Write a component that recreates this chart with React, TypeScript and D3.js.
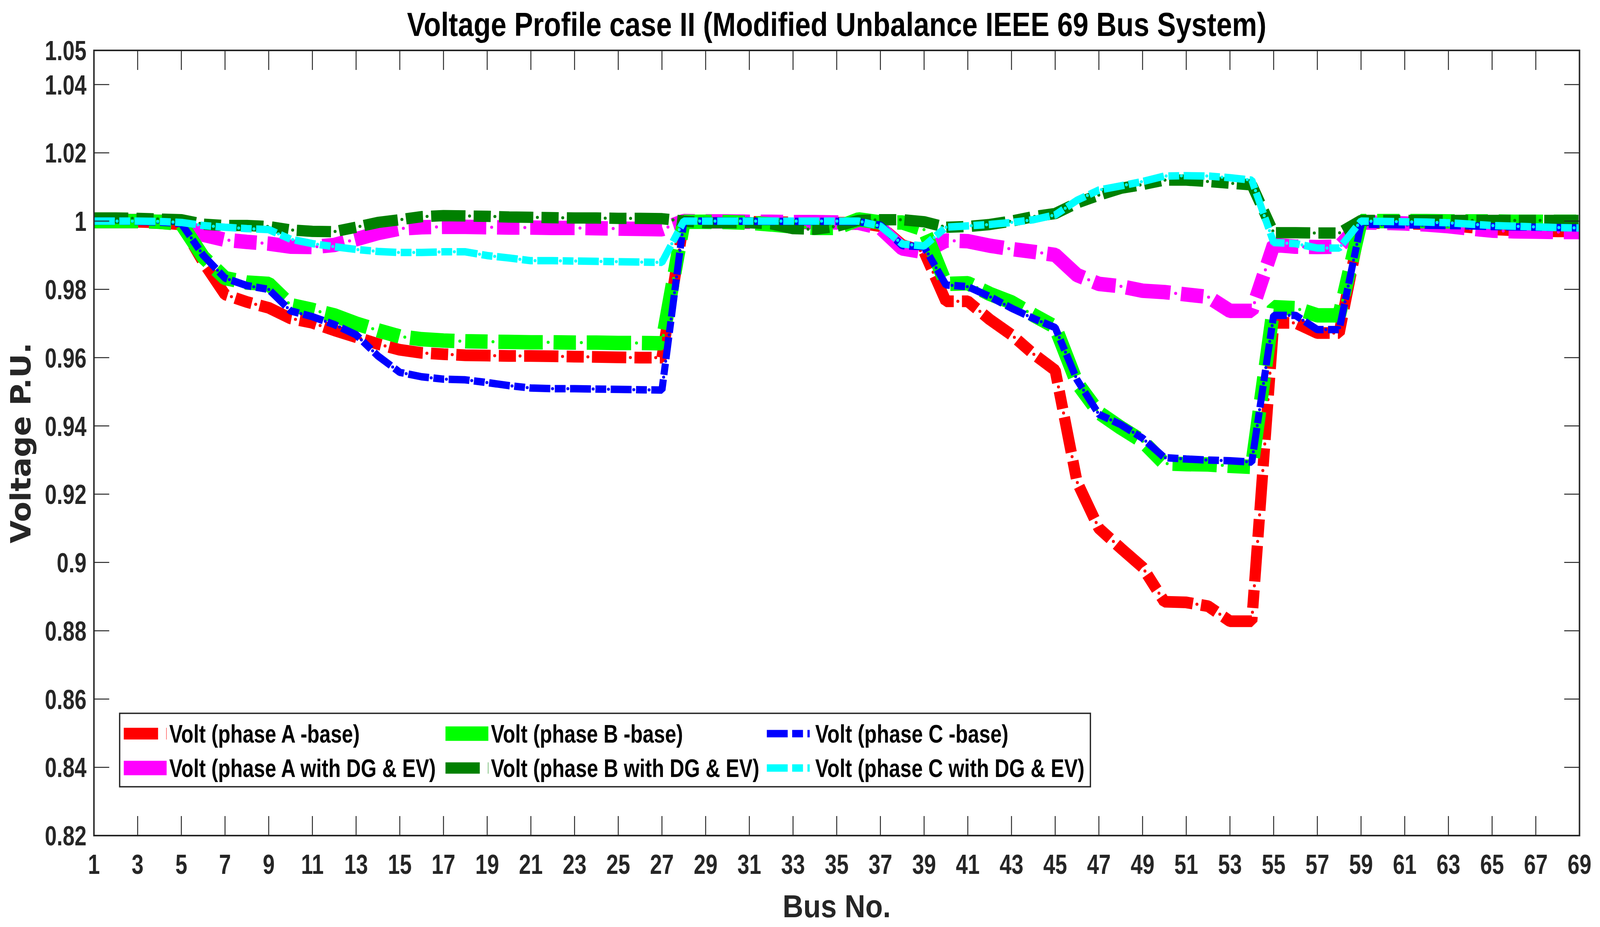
import React from 'react';
import * as d3 from 'd3';

// bus numbers 1..69
const busNo: number[] = d3.range(1, 70);

const phaseABase = [
  1.0, 1.0, 0.9998, 0.9996, 0.999, 0.988, 0.9785, 0.9763, 0.9746, 0.9715,
  0.9702, 0.968, 0.966, 0.964, 0.9623, 0.9614, 0.961, 0.9607, 0.9606, 0.9605,
  0.9605, 0.9604, 0.9603, 0.9602, 0.9601, 0.96, 0.96, 0.9998, 0.9998, 0.9998,
  0.9998, 0.9997, 0.9996, 0.9995, 0.9995, 0.9995, 0.9985, 0.993, 0.991, 0.9765,
  0.9765, 0.9712, 0.9667, 0.9611, 0.9563, 0.9236, 0.91, 0.9042, 0.8986, 0.8885,
  0.8883, 0.8872, 0.8828, 0.8828, 0.9702, 0.9702, 0.9672, 0.9672, 0.9995, 0.9994,
  0.9993, 0.9991, 0.9988, 0.9982, 0.9976, 0.9973, 0.9971, 0.997, 0.997,
];
const phaseBBase = [
  1.0, 1.0, 1.0, 0.9998, 0.9992, 0.9895, 0.9833, 0.982, 0.9816, 0.9754,
  0.974, 0.9724, 0.97, 0.968, 0.9662, 0.9654, 0.965, 0.9648, 0.9647, 0.9646,
  0.9645, 0.9645, 0.9644, 0.9644, 0.9643, 0.9643, 0.9642, 0.9998, 0.9998, 0.9997,
  0.9995, 0.999, 0.9984, 0.998, 0.998, 1.0005, 0.9996, 0.9996, 0.9975, 0.9816,
  0.9818, 0.9787, 0.9762, 0.9725, 0.969, 0.9526, 0.9439, 0.9395, 0.9355, 0.929,
  0.9288, 0.9287, 0.9283, 0.928, 0.9748, 0.9745, 0.9724, 0.9724, 1.0, 1.0,
  1.0, 1.0, 0.9999, 0.9999, 0.9999, 0.9998, 0.9998, 0.9998, 0.9998,
];
const phaseCBase = [
  1.0, 1.0, 0.9999, 0.9997, 0.9993, 0.99, 0.9833, 0.9811, 0.98, 0.9737,
  0.972, 0.9697, 0.9667, 0.9605, 0.9557, 0.9544, 0.9537, 0.9535, 0.9527, 0.9518,
  0.9511, 0.9509, 0.9509, 0.9508, 0.9507, 0.9506, 0.9505, 1.0, 1.0, 1.0,
  0.9999, 0.9999, 0.9999, 0.9999, 0.9999, 0.9998, 0.9988, 0.9928, 0.9925, 0.9813,
  0.9808, 0.9779, 0.9745, 0.9715, 0.9688, 0.9535, 0.9434, 0.9404, 0.9364, 0.9307,
  0.9303, 0.93, 0.9298, 0.9294, 0.9724, 0.9724, 0.9682, 0.9682, 0.9991, 0.999,
  0.9989, 0.9988, 0.9987, 0.9986, 0.9984, 0.9983, 0.9982, 0.9981, 0.998,
];
const phaseADg = [
  1.0, 1.0, 1.0, 0.9998, 0.9993, 0.996, 0.9945, 0.9939, 0.9934, 0.9925,
  0.9924, 0.993, 0.9947, 0.9965, 0.9978, 0.9982, 0.9983, 0.9983, 0.9982, 0.9981,
  0.9981, 0.998, 0.998, 0.9979, 0.9978, 0.9977, 0.9976, 1.0, 0.9999, 0.9999,
  0.9998, 0.9998, 0.9997, 0.9997, 0.9996, 0.9995, 0.998, 0.992, 0.9909, 0.9943,
  0.9941, 0.9928, 0.9918, 0.991, 0.9901, 0.9842, 0.9816, 0.9809, 0.9796, 0.9792,
  0.9785, 0.9778, 0.9737, 0.9737, 0.993, 0.9925, 0.9924, 0.9925, 0.9996, 0.9995,
  0.9993, 0.999, 0.9985, 0.9978, 0.9972, 0.997, 0.9969, 0.9968, 0.9968,
];
const phaseBDg = [
  1.0009, 1.0009, 1.0008, 1.0006, 1.0004, 0.9991, 0.9987, 0.9987, 0.9984, 0.9974,
  0.997, 0.9969, 0.9982, 0.9996, 1.0004, 1.0013, 1.0016, 1.0015, 1.0014, 1.0012,
  1.0011, 1.001, 1.0009, 1.0009, 1.0008, 1.0008, 1.0007, 1.0, 0.9995, 0.9995,
  0.9995, 0.9992, 0.9978, 0.9976, 0.9985, 1.0002, 1.0004, 1.0004, 0.9998, 0.9982,
  0.9984, 0.999, 1.0, 1.0013, 1.0022, 1.0053, 1.0076, 1.0096, 1.0107, 1.012,
  1.012, 1.0116, 1.0111, 1.0106, 0.9966, 0.9966, 0.9965, 0.9965, 1.0002, 1.0002,
  1.0002, 1.0002, 1.0002, 1.0002, 1.0002, 1.0002, 1.0002, 1.0002, 1.0002,
];
const phaseCDg = [
  1.0, 1.0, 1.0, 0.9999, 0.9996, 0.9987, 0.9982, 0.9978, 0.9975, 0.9947,
  0.9934, 0.9925, 0.9917, 0.9911, 0.9908, 0.9908, 0.991, 0.991, 0.9899, 0.9892,
  0.9884, 0.9884, 0.9883, 0.9882, 0.9881, 0.988, 0.9879, 1.0, 1.0, 1.0,
  1.0, 1.0, 1.0, 1.0, 1.0, 1.0, 0.9985, 0.9933, 0.9927, 0.9982,
  0.9986, 0.999, 0.9996, 1.0004, 1.0018, 1.0061, 1.0091, 1.0103, 1.0116, 1.0132,
  1.0133, 1.0132, 1.0127, 1.012, 0.9937, 0.9934, 0.9921, 0.9921, 1.0, 0.9999,
  0.9998, 0.9997, 0.9995, 0.9991, 0.9987, 0.9985, 0.9983, 0.9981, 0.998,
];

const seriesNames = [
  'Volt (phase A -base)',
  'Volt (phase A with DG & EV)',
  'Volt (phase B -base)',
  'Volt (phase B with DG & EV)',
  'Volt (phase C -base)',
  'Volt (phase C with DG & EV)',
];
const seriesValues = [phaseABase, phaseADg, phaseBBase, phaseBDg, phaseCBase, phaseCDg];

const yTickValues = [0.82, 0.84, 0.86, 0.88, 0.9, 0.92, 0.94, 0.96, 0.98, 1, 1.02, 1.04, 1.05];
const xTickValues = d3.range(1, 70, 2);

// thick dash-dot line styles; the small dots sit in the middle of each gap
const styles = [
  { color: '#FF0000', width: 30, dash: '92 22 46 22', dots: '0 68 0 114', dotOffset: 79 },
  { color: '#FF00FF', width: 37, dash: '119 29 60 29', dots: '0 89 0 148', dotOffset: 103.5 },
  { color: '#00FF00', width: 37, dash: '119 29 60 29', dots: '0 89 0 148', dotOffset: 103.5 },
  { color: '#008000', width: 29, dash: '92 22 46 22', dots: '0 68 0 114', dotOffset: 79 },
  { color: '#0000FF', width: 19, dash: '56 12 29 12', dots: '0 41 0 68', dotOffset: 47 },
  { color: '#00FFFF', width: 19, dash: '56 12 29 12', dots: '0 41 0 68', dotOffset: 47 },
];

const W = 4292;
const H = 2373;
const margin = { top: 129, right: 55, bottom: 234, left: 252 };
const font = "'Liberation Sans', Arial, sans-serif";
const axisColor = '#262626';
const squeeze = 0.82; // condensed look of the tick labels

// measured text widths in the reference
const legendWidths = [511, 715, 515, 720, 518, 722];

export default function App() {
  const x = d3.scaleLinear().domain([1, 69]).range([margin.left, W - margin.right]);
  const y = d3.scaleLinear().domain([0.82, 1.05]).range([H - margin.bottom, margin.top]);
  const x0 = margin.left;
  const x1 = W - margin.right;
  const y0 = H - margin.bottom;
  const y1 = margin.top;

  const line = d3
    .line<number>()
    .x((_, i) => x(busNo[i]))
    .y(d => y(d));

  const fmt = (v: number) => String(+v.toFixed(2));

  // legend layout
  const legCols = [332, 1195, 2057];
  const legTextX = [454, 1317, 2187];
  const legRows = [1878, 1966];

  return (
    <>
      <style>{'html,body{margin:0;padding:0;background:#fff;overflow:hidden}'}</style>
      <svg
        viewBox={`0 0 ${W} ${H}`}
        preserveAspectRatio="none"
        style={{ display: 'block', width: '100vw', height: '100vh', background: '#fff' }}
      >
        {/* data lines */}
        <g fill="none">
          {seriesValues.map((vals, i) => {
            const d = line(vals) || '';
            return (
              <g key={seriesNames[i]}>
                <path
                  d={d}
                  stroke={styles[i].color}
                  strokeWidth={styles[i].width}
                  strokeDasharray={styles[i].dash}
                  strokeLinejoin="bevel"
                />
                <path
                  d={d}
                  stroke={styles[i].color}
                  strokeWidth={8}
                  strokeLinecap="round"
                  strokeDasharray={styles[i].dots}
                  strokeDashoffset={styles[i].dotOffset}
                />
              </g>
            );
          })}
        </g>

        {/* axes box */}
        <rect x={x0} y={y1} width={x1 - x0} height={y0 - y1} fill="none" stroke={axisColor} strokeWidth={4} />

        {/* ticks */}
        <g stroke={axisColor} strokeWidth={2.5}>
          {xTickValues.map(t => (
            <React.Fragment key={t}>
              <line x1={x(t)} x2={x(t)} y1={y0} y2={y0 - 50} />
              <line x1={x(t)} x2={x(t)} y1={y1} y2={y1 + 50} />
            </React.Fragment>
          ))}
          {yTickValues.map(t => (
            <React.Fragment key={t}>
              <line x1={x0} x2={x0 + 41} y1={y(t)} y2={y(t)} />
              <line x1={x1} x2={x1 - 41} y1={y(t)} y2={y(t)} />
            </React.Fragment>
          ))}
        </g>

        {/* tick labels */}
        <g fontFamily={font} fontWeight="bold" fontSize={70} fill={axisColor}>
          {xTickValues.map(t => (
            <text key={t} transform={`translate(${x(t)},${2237}) scale(${squeeze},1)`} textAnchor="middle">
              {t}
            </text>
          ))}
          {yTickValues.map(t => (
            <text key={t} transform={`translate(${x0 - 20},${y(t)}) scale(${squeeze},1)`} dy="0.36em" textAnchor="end">
              {fmt(t)}
            </text>
          ))}
        </g>

        {/* title */}
        <text
          x={(x0 + x1) / 2}
          y={92}
          textAnchor="middle"
          fontFamily={font}
          fontWeight="bold"
          fontSize={85}
          fill="#000"
          textLength={2305}
          lengthAdjust="spacingAndGlyphs"
        >
          Voltage Profile case II (Modified Unbalance IEEE 69 Bus System)
        </text>

        {/* axis labels */}
        <text
          x={(x0 + x1) / 2}
          y={2348}
          textAnchor="middle"
          fontFamily={font}
          fontWeight="bold"
          fontSize={82}
          fill={axisColor}
          textLength={290}
          lengthAdjust="spacingAndGlyphs"
        >
          Bus No.
        </text>
        <text
          transform={`translate(${82},${(y0 + y1) / 2}) rotate(-90)`}
          textAnchor="middle"
          fontFamily="'DejaVu Sans', sans-serif"
          fontWeight="bold"
          fontSize={74}
          fill={axisColor}
          textLength={514}
          lengthAdjust="spacingAndGlyphs"
        >
          Voltage P.U.
        </text>

        {/* legend */}
        <rect x={321} y={1826} width={2925 - 321} height={2014 - 1826} fill="#fff" stroke={axisColor} strokeWidth={3.5} />
        {seriesNames.map((name, i) => {
          const col = Math.floor(i / 2);
          const row = i % 2;
          const ly = legRows[row];
          return (
            <g key={name}>
              <line
                x1={legCols[col]}
                x2={legCols[col] + 115}
                y1={ly}
                y2={ly}
                stroke={styles[i].color}
                strokeWidth={styles[i].width}
                strokeDasharray={styles[i].dash}
              />
              <text
                x={legTextX[col]}
                y={ly}
                dy="0.36em"
                fontFamily={font}
                fontWeight="bold"
                fontSize={64}
                fill="#000"
                textLength={legendWidths[i]}
                lengthAdjust="spacingAndGlyphs"
              >
                {name}
              </text>
            </g>
          );
        })}
      </svg>
    </>
  );
}
